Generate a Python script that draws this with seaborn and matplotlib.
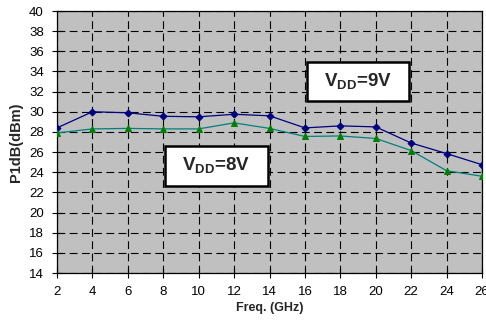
import matplotlib
matplotlib.use("Agg")
import matplotlib.pyplot as plt
from matplotlib.patches import Rectangle
import seaborn as sns
import pandas as pd

freq = [2, 4, 6, 8, 10, 12, 14, 16, 18, 20, 22, 24, 26]
p1db_9v = [28.4, 30.0, 29.9, 29.55, 29.5, 29.75, 29.6, 28.4, 28.6, 28.5, 26.9, 25.85, 24.75]
p1db_8v = [27.9, 28.3, 28.35, 28.3, 28.3, 28.9, 28.35, 27.55, 27.6, 27.35, 26.15, 24.15, 23.6]
x_ticks = list(range(2, 27, 2))
y_ticks = list(range(14, 41, 2))
label_9v = "V$_{\\mathbf{DD}}$=9V"
label_8v = "V$_{\\mathbf{DD}}$=8V"

sns.set_theme(style="white")
plt.rcParams['font.family'] = ['Liberation Sans', 'DejaVu Sans']
plt.rcParams['mathtext.fontset'] = 'custom'
plt.rcParams['mathtext.rm'] = 'Liberation Sans'
plt.rcParams['mathtext.bf'] = 'Liberation Sans:bold'

df = pd.DataFrame({"freq": freq * 2,
                   "p1db": p1db_9v + p1db_8v,
                   "vdd": ["9V"] * len(freq) + ["8V"] * len(freq)})

fig = plt.figure(figsize=(4.86, 3.22), dpi=100)
ax = fig.add_axes([57 / 486, 49 / 322, 425 / 486, 262 / 322])
ax.set_facecolor("#C0C0C0")

sns.lineplot(data=df[df.vdd == "9V"], x="freq", y="p1db", ax=ax, color="#000080",
             lw=0.9, marker="D", markersize=3.5, markerfacecolor="#000080",
             markeredgecolor="#000080", zorder=4)
sns.lineplot(data=df[df.vdd == "8V"], x="freq", y="p1db", ax=ax, color="#008080",
             lw=0.9, marker="^", markersize=4.5, markerfacecolor="#008000",
             markeredgecolor="#008000", zorder=4)

ax.set_xlim(2, 26)
ax.set_ylim(14, 40)
ax.set_xticks(x_ticks)
ax.set_yticks(y_ticks)
ax.set_xticklabels([str(t) for t in x_ticks])
ax.set_yticklabels([str(t) for t in y_ticks])
ax.grid(True, color="black", linestyle=(0, (7, 4)), linewidth=0.8)
ax.set_axisbelow(False)
ax.tick_params(direction="inout", length=7, width=0.8, colors="black",
               labelsize=9.5, pad=6, bottom=True, left=True)
for s in ax.spines.values():
    s.set_color("black")
    s.set_linewidth(0.9)
ax.set_xlabel("Freq. (GHz)", fontsize=9, fontweight="bold", labelpad=3)
ax.set_ylabel("P1dB(dBm)", fontsize=10.5, fontweight="bold", labelpad=4)

for (x0, x1, y0, y1) in [(16.1, 21.9, 31.07, 34.97), (8.08, 13.93, 22.64, 26.6)]:
    ax.add_patch(Rectangle((x0, y0), x1 - x0, y1 - y0, facecolor="white",
                           edgecolor="black", linewidth=1.8, zorder=6))
ax.text(19, 33, label_9v, ha="center", va="center", fontsize=13.5,
        fontweight="bold", zorder=7)
ax.text(11, 24.6, label_8v, ha="center", va="center", fontsize=13.5,
        fontweight="bold", zorder=7)

fig.savefig("out.png", dpi=100)
